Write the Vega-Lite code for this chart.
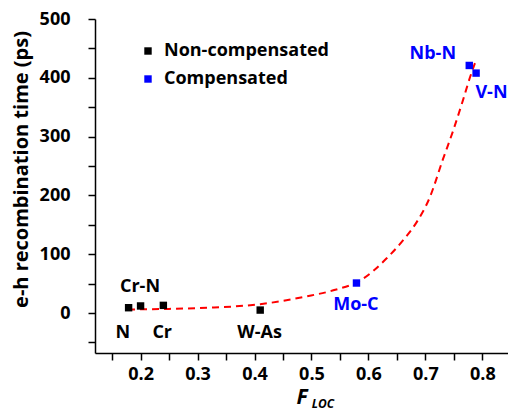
{
  "$schema": "https://vega.github.io/schema/vega-lite/v6.json",
  "width": 413,
  "height": 334,
  "autosize": "none",
  "padding": {"left": 95, "top": 19, "right": 0, "bottom": 61},
  "background": "white",
  "config": {
    "view": {"stroke": null},
    "font": "Open Sans",
    "axis": {"grid": false, "domainColor": "#000000", "domainWidth": 1.5, "tickColor": "#000000", "tickWidth": 1.5, "tickSize": 7, "labelFont": "Open Sans", "labelFontWeight": "bold", "labelFontSize": 18, "labelColor": "#000000", "titleFont": "Open Sans", "titleColor": "#000000", "labelOverlap": false}
  },
  "datasets": {
    "pts": [
      {"f": 0.179, "t": 9, "type": "Non-compensated", "name": "N"},
      {"f": 0.200, "t": 12, "type": "Non-compensated", "name": "Cr-N"},
      {"f": 0.240, "t": 13, "type": "Non-compensated", "name": "Cr"},
      {"f": 0.410, "t": 5, "type": "Non-compensated", "name": "W-As"},
      {"f": 0.579, "t": 51, "type": "Compensated", "name": "Mo-C"},
      {"f": 0.777, "t": 421, "type": "Compensated", "name": "Nb-N"},
      {"f": 0.789, "t": 408, "type": "Compensated", "name": "V-N"}
    ],
    "labels": [
      {"f": 0.169, "t": -34, "type": "Non-compensated", "name": "N"},
      {"f": 0.199, "t": 44, "type": "Non-compensated", "name": "Cr-N"},
      {"f": 0.238, "t": -34, "type": "Non-compensated", "name": "Cr"},
      {"f": 0.409, "t": -34, "type": "Non-compensated", "name": "W-As"},
      {"f": 0.578, "t": 14, "type": "Compensated", "name": "Mo-C"},
      {"f": 0.713, "t": 440, "type": "Compensated", "name": "Nb-N"},
      {"f": 0.816, "t": 374, "type": "Compensated", "name": "V-N"}
    ],
    "fit": [
      {"f": 0.178, "t": 6},
      {"f": 0.25, "t": 7},
      {"f": 0.32, "t": 9},
      {"f": 0.41, "t": 15},
      {"f": 0.49, "t": 28},
      {"f": 0.54, "t": 39},
      {"f": 0.585, "t": 55},
      {"f": 0.632, "t": 93},
      {"f": 0.661, "t": 124},
      {"f": 0.685, "t": 155},
      {"f": 0.707, "t": 195},
      {"f": 0.731, "t": 262},
      {"f": 0.749, "t": 311},
      {"f": 0.766, "t": 362},
      {"f": 0.778, "t": 400},
      {"f": 0.787, "t": 425}
    ],
    "sub": [
      {"f": 0.52, "t": -155, "txt": "LOC"}
    ]
  },
  "encoding": {
    "x": {"field": "f", "type": "quantitative", "scale": {"domain": [0.12, 0.845], "nice": false, "zero": false},
      "axis": {"values": [0.15, 0.2, 0.25, 0.3, 0.35, 0.4, 0.45, 0.5, 0.55, 0.6, 0.65, 0.7, 0.75, 0.8], "labelExpr": "round(datum.value*100) % 10 == 0 ? format(datum.value, '.1f') : ''", "labelPadding": 5, "title": "F", "titleFontStyle": "italic", "titleFontWeight": "bold", "titleFontSize": 21, "titlePadding": 3}},
    "y": {"field": "t", "type": "quantitative", "scale": {"domain": [-68, 500], "nice": false, "zero": false},
      "axis": {"values": [-50, 0, 50, 100, 150, 200, 250, 300, 350, 400, 450, 500], "labelExpr": "datum.value % 100 == 0 ? datum.label : ''", "labelPadding": 18, "title": "e-h recombination time (ps)", "titleFontWeight": "bold", "titleFontSize": 20, "titlePadding": 8, "titleY": 150}}
  },
  "layer": [
    {
      "data": {"name": "fit"},
      "mark": {"type": "line", "color": "#ff0000", "strokeWidth": 2, "strokeDash": [7, 5], "interpolate": "monotone"}
    },
    {
      "data": {"name": "pts"},
      "mark": {"type": "point", "shape": "square", "filled": true, "size": 55, "opacity": 1},
      "encoding": {
        "color": {"field": "type", "type": "nominal", "scale": {"domain": ["Non-compensated", "Compensated"], "range": ["#000000", "#0000ff"]},
          "legend": {"title": null, "orient": "none", "legendX": 44, "legendY": 23, "symbolType": "square", "symbolSize": 55, "symbolStrokeWidth": 0, "labelFont": "Open Sans", "labelFontWeight": "bold", "labelFontSize": 18, "labelLimit": 400, "labelOffset": 7, "rowPadding": 10, "padding": 0,
            "encode": {"labels": {"update": {"fill": {"signal": "datum.label === 'Compensated' ? '#0000ff' : '#000000'"}}}}}}
      }
    },
    {
      "data": {"name": "labels"},
      "mark": {"type": "text", "font": "Open Sans", "fontWeight": "bold", "fontSize": 18, "align": "center", "baseline": "middle"},
      "encoding": {
        "text": {"field": "name"},
        "color": {"field": "type", "type": "nominal", "legend": null}
      }
    },
    {
      "data": {"name": "sub"},
      "mark": {"type": "text", "font": "Open Sans", "fontWeight": "bold", "fontStyle": "italic", "fontSize": 12, "align": "center", "baseline": "middle", "color": "#000000"},
      "encoding": {
        "text": {"field": "txt"}
      }
    }
  ]
}
